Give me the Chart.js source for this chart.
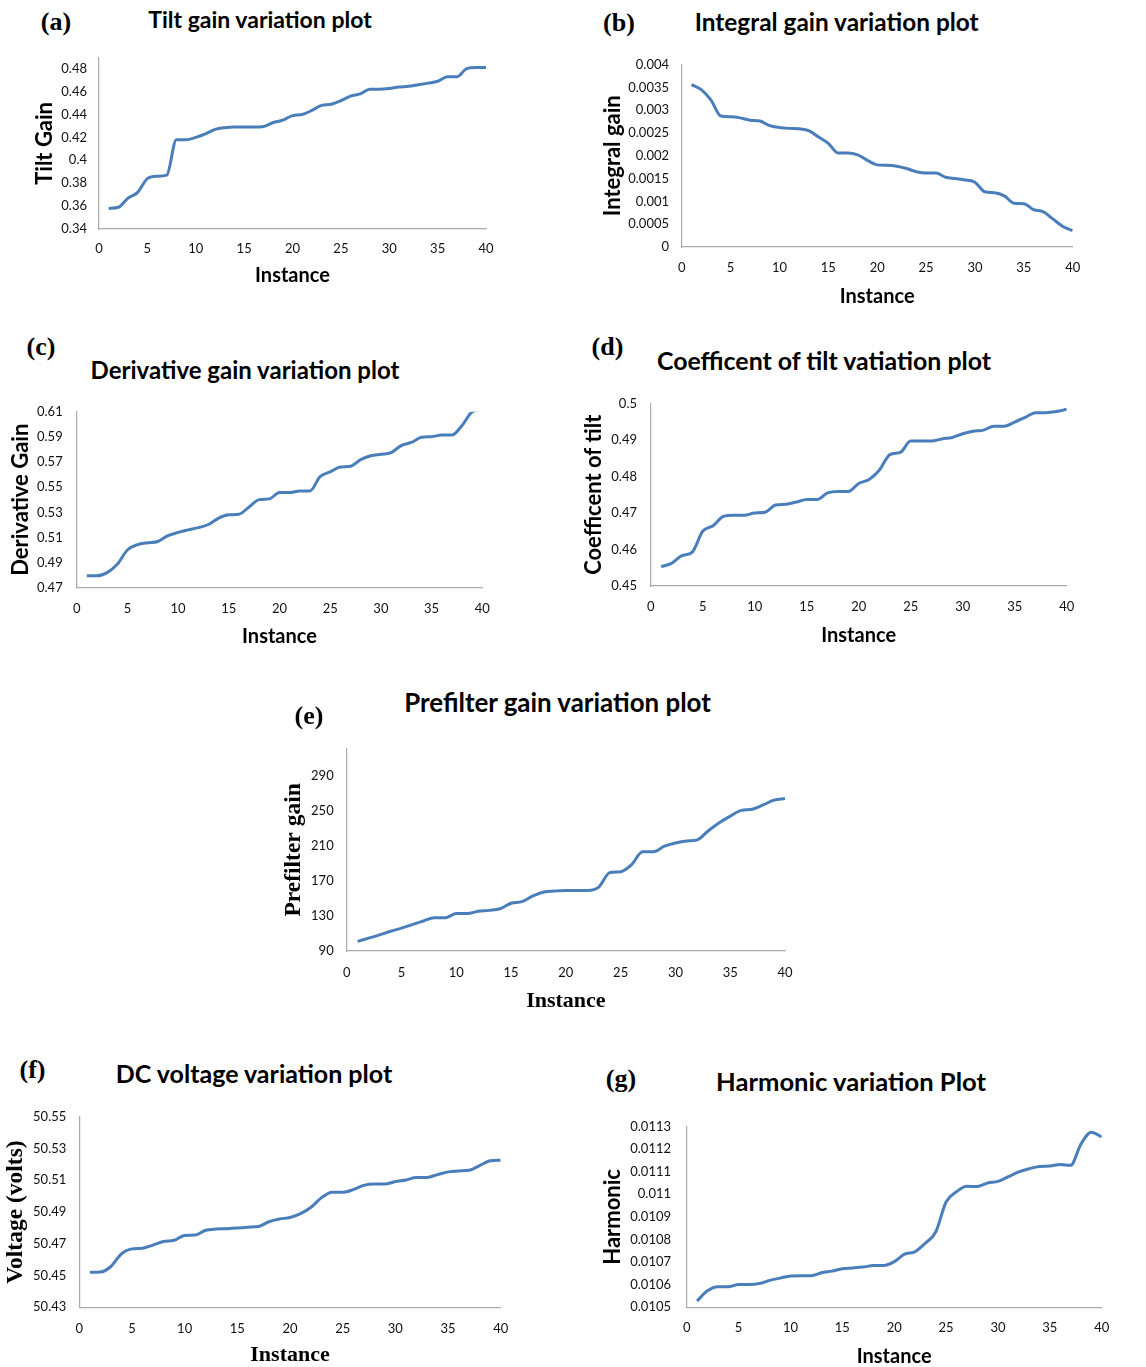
<!DOCTYPE html>
<html>
<head>
<meta charset="utf-8">
<script src="https://cdn.jsdelivr.net/npm/chart.js@4.4.0/dist/chart.umd.min.js"></script>
<style>
  html, body { margin: 0; padding: 0; background: #fff; }
  #page { position: relative; width: 1146px; height: 1367px; overflow: hidden; background: #fff; }
  #page canvas { position: absolute; z-index: 1; }
  .ttl { position: absolute; z-index: 2; font-family: Lato, sans-serif; font-weight: 700; white-space: nowrap;
         color: #000; transform: translate(-50%, -50%); line-height: 1; }
  .tag { position: absolute; z-index: 2; font-family: "Liberation Serif", "Times New Roman", serif; font-weight: 700;
         white-space: nowrap; color: #000; transform: translate(-50%, -50%); line-height: 1; }
</style>
</head>
<body>
<div id="page"></div>
<script>
// Instance index (x axis) and its tick marks
const instances = [1,2,3,4,5,6,7,8,9,10,11,12,13,14,15,16,17,18,19,20,
                   21,22,23,24,25,26,27,28,29,30,31,32,33,34,35,36,37,38,39,40];
const instanceTicks = [0,5,10,15,20,25,30,35,40];

// (a) Tilt gain
const tiltGain = [0.358,0.359,0.367,0.372,0.384,0.386,0.387,0.418,0.418,0.420,
                  0.423,0.427,0.4285,0.429,0.429,0.429,0.4295,0.433,0.435,0.439,
                  0.440,0.4435,0.448,0.449,0.452,0.456,0.458,0.462,0.462,0.4627,
                  0.464,0.4646,0.466,0.4674,0.469,0.473,0.473,0.480,0.481,0.481];
const tiltTicks = [0.34,0.36,0.38,0.4,0.42,0.44,0.46,0.48];

// (b) Integral gain
const integralGain = [0.00356,0.00345,0.00322,0.00287,0.002855,0.00283,0.00278,0.00276,0.00266,0.00262,
                      0.0026,0.00259,0.00255,0.00241,0.00227,0.00206,0.00206,0.00202,0.0019,0.0018,
                      0.00179,0.00177,0.00172,0.00165,0.00162,0.00162,0.00153,0.0015,0.00147,0.00142,
                      0.00121,0.00119,0.00112,0.00096,0.00095,0.00082,0.00077,0.00061,0.00045,0.00036];
const integralTicks = [0,0.0005,0.001,0.0015,0.002,0.0025,0.003,0.0035,0.004];

// (c) Derivative gain
const derivativeGain = [0.4795,0.4795,0.482,0.4886,0.500,0.5043,0.5058,0.5068,0.5114,0.514,
                        0.516,0.5178,0.5203,0.5254,0.528,0.5285,0.5343,0.5401,0.5407,0.5457,
                        0.5457,0.547,0.547,0.5584,0.5622,0.566,0.5666,0.5719,0.575,0.5762,
                        0.5775,0.5831,0.5856,0.5897,0.5902,0.5915,0.5915,0.5991,0.61,0.612];
const derivativeTicks = [0.47,0.49,0.51,0.53,0.55,0.57,0.59,0.61];

// (d) Coefficient of tilt
const tiltCoefficient = [0.4553,0.4562,0.4583,0.4593,0.465,0.4665,0.4691,0.4694,0.4694,0.470,
                         0.4702,0.4722,0.4724,0.4730,0.4737,0.4737,0.4755,0.4759,0.4759,0.4781,
                         0.4792,0.4818,0.486,0.4866,0.4897,0.4897,0.4897,0.4903,0.4907,0.4917,
                         0.4924,0.4927,0.4938,0.4938,0.4949,0.4962,0.4975,0.4975,0.4978,0.4984];
const coefficientTicks = [0.45,0.46,0.47,0.48,0.49,0.5];

// (e) Prefilter gain
const prefilterGain = [101,104.7,108.4,112.5,116.2,120.2,124.3,128,128,132.7,
                       132.7,135.3,136.4,138.3,144.5,146.4,153,157.4,158.5,159.2,
                       159.2,159.2,163,179.5,180.6,188.7,203.4,203.4,209.7,213.4,
                       215.6,217,227.4,236.6,244,250.6,252,256.9,262.4,264.2];
const prefilterTicks = [90,130,170,210,250,290];

// (f) DC voltage
const dcVoltage = [50.452,50.4522,50.4557,50.4637,50.4668,50.4672,50.4692,50.4714,50.4722,50.4753,
                   50.4755,50.4785,50.4793,50.4795,50.4799,50.4805,50.4809,50.4839,50.4856,50.4866,
                   50.489,50.493,50.4991,50.5025,50.5025,50.5041,50.5068,50.5076,50.5076,50.5092,
                   50.5102,50.5118,50.5118,50.5136,50.5153,50.5159,50.5163,50.5193,50.5223,50.5227];
const voltageTicks = [50.43,50.45,50.47,50.49,50.51,50.53,50.55];

// (g) Harmonic
const harmonic = [0.010528,0.010573,0.010591,0.010591,0.010601,0.010601,0.010605,0.010619,0.010629,0.010639,
                  0.01064,0.01064,0.010653,0.01066,0.010671,0.010674,0.010678,0.010685,0.010685,0.010702,
                  0.010735,0.010746,0.010784,0.010833,0.010966,0.011011,0.011036,0.011034,0.01105,0.011057,
                  0.011078,0.011099,0.011113,0.011123,0.011125,0.011132,0.011128,0.011222,0.011275,0.011254];
const harmonicTicks = [0.0105,0.0106,0.0107,0.0108,0.0109,0.011,0.0111,0.0112,0.0113];

// Panel layout on the page: plot box, axis-title and label positions
const panels = [
  { tag: '(a)', title: 'Tilt gain variation plot', yLabel: 'Tilt Gain', values: tiltGain, ticks: tiltTicks, yMax: 0.4895,
    box: { L: 99, T: 52, R: 486, B: 229 }, yTitleX: 45, xTickY: 249, xTitleY: 276, yGap: 12,
    titlePos: [260, 19], titleSize: 23, tagPos: [56, 21.5], serif: false },
  { tag: '(b)', title: 'Integral gain variation plot', yLabel: 'Integral gain', values: integralGain, ticks: integralTicks, yMax: 0.004,
    box: { L: 681.7, T: 58.3, R: 1072.7, B: 247 }, yTitleX: 613, xTickY: 268, xTitleY: 297, yGap: 12.7,
    titlePos: [836.7, 21.7], titleSize: 24.4, tagPos: [619, 22.5], serif: false },
  { tag: '(c)', title: 'Derivative gain variation plot', yLabel: 'Derivative Gain', values: derivativeGain, ticks: derivativeTicks, yMax: 0.61,
    box: { L: 76.7, T: 404, R: 482.3, B: 587.7 }, yTitleX: 20.7, xTickY: 609.3, xTitleY: 636.7, yGap: 14,
    titlePos: [245, 370], titleSize: 24, tagPos: [41, 346.7], serif: false },
  { tag: '(d)', title: 'Coefficent of tilt vatiation plot', yLabel: 'Coefficent of tilt', values: tiltCoefficient, ticks: coefficientTicks, yMax: 0.5,
    box: { L: 650.7, T: 395.7, R: 1066.7, B: 586 }, yTitleX: 594, xTickY: 606.7, xTitleY: 636, yGap: 13.7,
    titlePos: [824, 360], titleSize: 24.9, tagPos: [607.5, 347], serif: false },
  { tag: '(e)', title: 'Prefilter gain variation plot', yLabel: 'Prefilter gain', values: prefilterGain, ticks: prefilterTicks, yMax: 321,
    box: { L: 346.7, T: 741.7, R: 785, B: 951 }, yTitleX: 294, xTickY: 973, xTitleY: 1001.7, yGap: 13,
    titlePos: [557.5, 703.3], titleSize: 25.9, tagPos: [309, 716], serif: true },
  { tag: '(f)', title: 'DC voltage variation plot', yLabel: 'Voltage (volts)', values: dcVoltage, ticks: voltageTicks, yMax: 50.55,
    box: { L: 79.3, T: 1109.5, R: 500.7, B: 1307.3 }, yTitleX: 16, xTickY: 1329.3, xTitleY: 1355, yGap: 13,
    titlePos: [254, 1073.3], titleSize: 25, tagPos: [32.5, 1070], serif: true },
  { tag: '(g)', title: 'Harmonic variation Plot', yLabel: 'Harmonic', values: harmonic, ticks: harmonicTicks, yMax: 0.0113,
    box: { L: 686.7, T: 1117.3, R: 1101.7, B: 1307.3 }, yTitleX: 613.3, xTickY: 1328.3, xTitleY: 1356.7, yGap: 15.7,
    titlePos: [851, 1081.7], titleSize: 25.6, tagPos: [621, 1079], serif: false }
];

const LINE_COLOR = '#4a7ebb';
const AXIS_COLOR = '#ababab';
const TICK_COLOR = '#111111';
const TICK_FONT = { family: 'Lato, sans-serif', size: 13, lineHeight: 1.2 };
const SANS_X_FONT = { family: 'Lato, sans-serif', size: 20, weight: 'bold', lineHeight: 1.2 };
const SANS_Y_FONT = { family: 'Lato, sans-serif', size: 22, weight: 'bold', lineHeight: 1.2 };
const SERIF_X_FONT = { family: '"Liberation Serif", "Times New Roman", serif', size: 22, weight: 'bold', lineHeight: 1.2 };
const SERIF_Y_FONT = { family: '"Liberation Serif", "Times New Roman", serif', size: 23.5, weight: 'bold', lineHeight: 1.2 };
const TAG_SIZE = 26;

const page = document.getElementById('page');

function addText(cls, text, pos, size) {
  const d = document.createElement('div');
  d.className = cls;
  d.textContent = text;
  d.style.left = pos[0] + 'px';
  d.style.top = pos[1] + 'px';
  d.style.fontSize = size + 'px';
  page.appendChild(d);
}

function fmt(v) { return String(v); }

function makePanel(p) {
  const xFont = p.serif ? SERIF_X_FONT : SANS_X_FONT;
  const yFont = p.serif ? SERIF_Y_FONT : SANS_Y_FONT;
  const lhX = xFont.size * xFont.lineHeight;
  const lhY = yFont.size * yFont.lineHeight;
  const lhTick = TICK_FONT.size * TICK_FONT.lineHeight;

  // canvas extent around the plot box
  const CL = Math.round(p.yTitleX - 16);
  const CT = Math.round(p.box.T - 14);
  const CR = Math.round(p.box.R + 24);
  const CB = Math.round(p.xTitleY + 16);
  const W = CR - CL, H = CB - CT;

  const canvas = document.createElement('canvas');
  canvas.width = W; canvas.height = H;
  canvas.style.left = CL + 'px'; canvas.style.top = CT + 'px';
  canvas.style.width = W + 'px'; canvas.style.height = H + 'px';
  page.appendChild(canvas);

  const yAxisWidth = p.box.L - CL;
  const xAxisHeight = CB - p.box.B;

  new Chart(canvas, {
    type: 'line',
    data: {
      datasets: [{
        data: instances.map((x, i) => ({ x: x, y: p.values[i] })),
        borderColor: LINE_COLOR,
        borderWidth: 3,
        pointRadius: 0,
        cubicInterpolationMode: 'monotone',
        fill: false
      }]
    },
    options: {
      responsive: false,
      animation: false,
      devicePixelRatio: 1,
      layout: { padding: { left: 0, top: p.box.T - CT, right: CR - p.box.R, bottom: 0 } },
      plugins: { legend: { display: false }, tooltip: { enabled: false } },
      scales: {
        x: {
          type: 'linear', min: 0, max: 40,
          grid: { display: false, drawTicks: false },
          border: { display: true, color: AXIS_COLOR, width: 1.2 },
          afterBuildTicks: s => { s.ticks = instanceTicks.map(v => ({ value: v })); },
          afterFit: s => { s.height = xAxisHeight; },
          ticks: { padding: p.xTickY - p.box.B - lhTick / 2, font: TICK_FONT, color: TICK_COLOR,
                   callback: fmt, maxRotation: 0, autoSkip: false },
          title: { display: true, text: 'Instance', font: xFont, color: '#000',
                   padding: { top: 0, bottom: CB - p.xTitleY - lhX / 2 } }
        },
        y: {
          type: 'linear', min: p.ticks[0], max: p.yMax,
          grid: { display: false, drawTicks: false },
          border: { display: true, color: AXIS_COLOR, width: 1.2 },
          afterBuildTicks: s => { s.ticks = p.ticks.map(v => ({ value: v })); },
          afterFit: s => { s.width = yAxisWidth; },
          ticks: { padding: p.yGap, font: TICK_FONT, color: TICK_COLOR, callback: fmt, autoSkip: false },
          title: { display: true, text: p.yLabel, font: yFont, color: '#000',
                   padding: { top: p.yTitleX - CL - lhY / 2, bottom: 0 } }
        }
      }
    }
  });

  addText('ttl', p.title, p.titlePos, p.titleSize);
  addText('tag', p.tag, p.tagPos, TAG_SIZE);
}

panels.forEach(makePanel);
</script>
</body>
</html>
